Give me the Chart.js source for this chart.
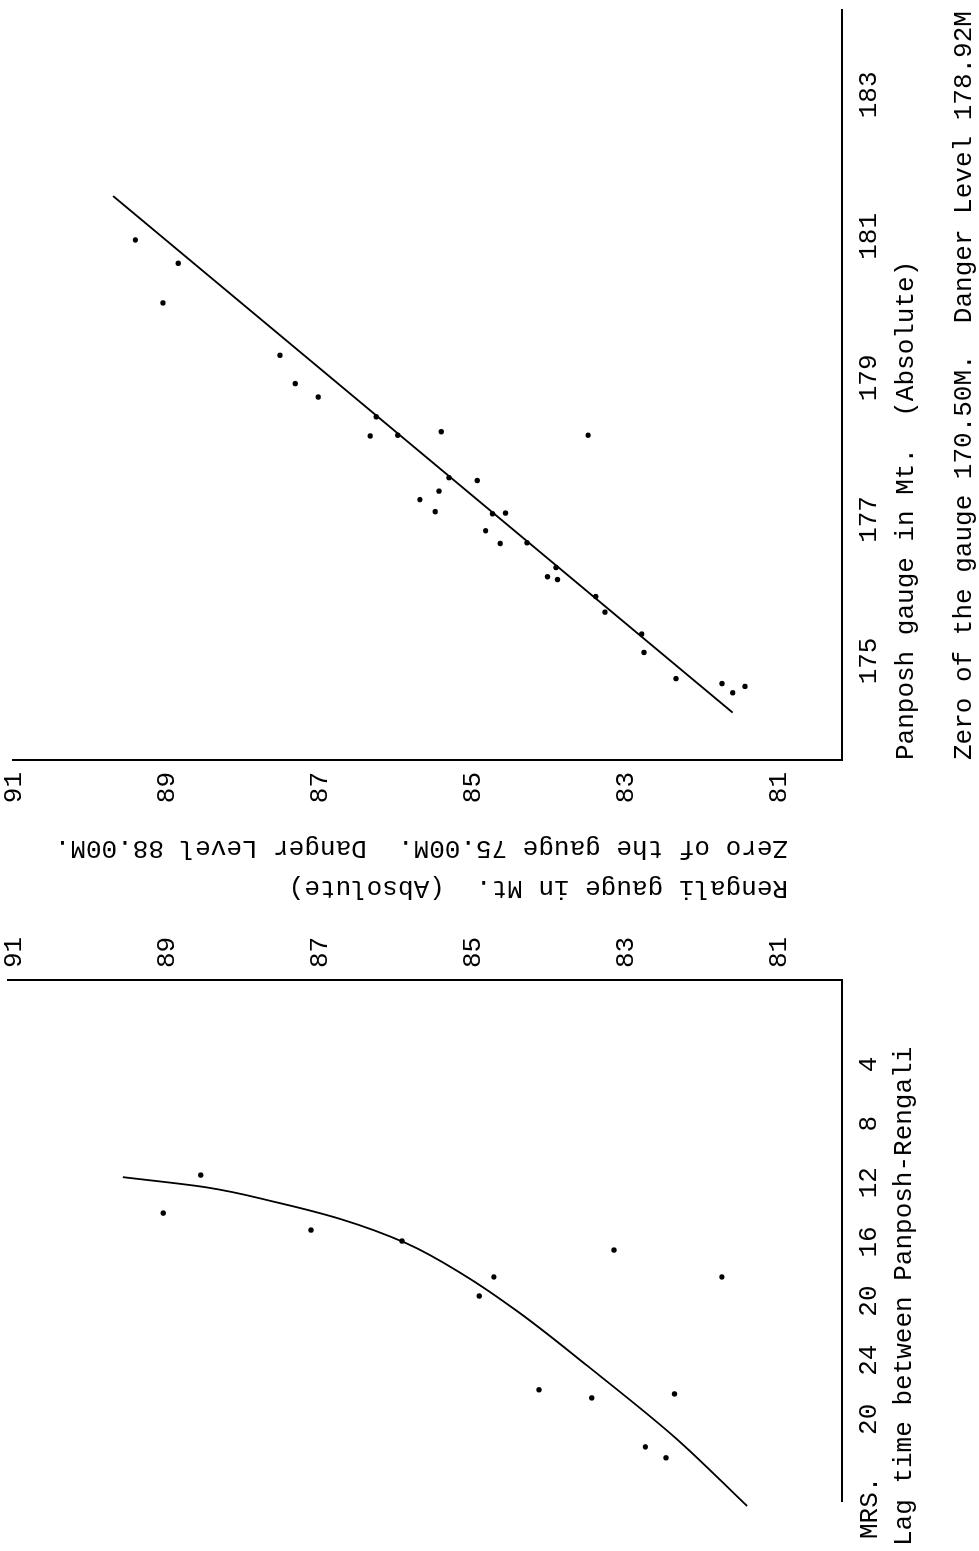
<!DOCTYPE html>
<html>
<head>
<meta charset="utf-8">
<script src="https://cdn.jsdelivr.net/npm/chart.js@4.4.0/dist/chart.umd.min.js"></script>
<style>
html, body { margin: 0; padding: 0; background: #fff; overflow: hidden; width: 979px; height: 1551px; }
#page { position: absolute; left: 0; top: 0; width: 1551px; height: 979px; overflow: hidden;
        transform-origin: 0 0; transform: translateY(1551px) rotate(-90deg); background: #fff; }
#lagChart { position: absolute; left: 0; top: 0; }
#gaugeChart { position: absolute; left: 640px; top: 0; }
</style>
</head>
<body>
<div id="page">
  <canvas id="lagChart" width="640" height="979"></canvas>
  <canvas id="gaugeChart" width="911" height="993"></canvas>
</div>
<script>
// ---------- data ----------
const rengaliTicks = [81, 83, 85, 87, 89, 91];
const panposhTicks = [175, 177, 179, 181, 183];
const lagTicks = [4, 8, 12, 16, 20, 24, 28];
const lagTickLabels = ['4', '8', '12', '16', '20', '24', '20'];
const lagUnitLabel = 'MRS.';

const panposhTitle = ['Panposh gauge in Mt.  (Absolute)', 'Zero of the gauge 170.50M.  Danger Level 178.92M'];
const rengaliTitle = ['Rengali gauge in Mt.  (Absolute)', 'Zero of the gauge 75.00M.  Danger Level 88.00M.'];
const lagTitle = 'Lag time between Panposh-Rengali';

// Panposh (x) vs Rengali (y) observations
const panposhObs = [180.95, 180.62, 180.06, 179.32, 178.92, 178.73, 178.45, 178.18, 178.19,
  178.19, 178.24, 177.59, 177.55, 177.28, 177.40, 177.11, 177.08, 177.09, 176.84, 176.66, 176.67,
  176.32, 176.19, 176.15, 175.91, 175.69, 175.38, 175.12, 174.75, 174.68, 174.55, 174.64];
const rengaliObsA = [89.42, 88.86, 89.06, 87.53, 87.33, 87.03, 86.27, 86.35, 85.99,
  83.50, 85.42, 85.32, 84.95, 85.70, 85.45, 85.50, 84.75, 84.58, 84.84, 84.65, 84.30,
  83.92, 84.03, 83.90, 83.40, 83.28, 82.80, 82.77, 82.35, 81.75, 81.61, 81.45];
// fitted straight line (end points)
const fitPanposh = [174.27, 181.57];
const fitRengali = [81.61, 89.71];

// Lag time (hrs) vs Rengali observations
const lagObs = [11.48, 14.05, 15.20, 15.94, 16.55, 18.37, 18.37, 19.66, 26.00, 26.55, 26.28, 29.86, 30.60];
const rengaliObsB = [88.56, 89.05, 87.12, 85.93, 83.16, 84.73, 81.75, 84.92, 84.14, 83.45, 82.37, 82.75, 82.48];
// fitted curve
const curveLag = [11.62, 12.30, 13.30, 14.46, 16.08, 18.31, 20.74, 24.33, 29.19, 33.86];
const curveRengali = [89.58, 88.50, 87.59, 86.73, 85.88, 85.10, 84.41, 83.52, 82.37, 81.42];

// ---------- styling ----------
const FONT = "'Liberation Mono', 'Courier New', monospace";
const INK = '#000';
const pts = (xs, ys) => xs.map((x, i) => ({ x: x, y: ys[i] }));

const pageTextPlugin = {
  id: 'pageText',
  afterDraw(chart, args, opts) {
    const ctx = chart.ctx;
    (opts.items || []).forEach(it => {
      ctx.save();
      ctx.font = (it.size || 26) + 'px ' + FONT;
      ctx.fillStyle = INK;
      ctx.textAlign = 'left';
      ctx.textBaseline = 'middle';
      ctx.translate(it.x, it.y);
      if (it.rotate) ctx.rotate(it.rotate);
      ctx.fillText(it.text, 0, 0);
      ctx.restore();
    });
  }
};

const noPad = (s) => { s.paddingLeft = 0; s.paddingRight = 0; s.paddingTop = 0; s.paddingBottom = 0; };
const tickFont = { family: FONT, size: 26 };
const border = { display: true, color: INK, width: 2 };
const grid = { display: false, drawTicks: false };

// ---------- left chart: lag time ----------
new Chart(document.getElementById('lagChart'), {
  type: 'scatter',
  data: {
    datasets: [
      { data: pts(lagObs, rengaliObsB), pointRadius: 2.7, pointBackgroundColor: INK, pointBorderWidth: 0, showLine: false },
      { data: pts(curveLag, curveRengali), showLine: true, borderColor: INK, borderWidth: 1.8,
        pointRadius: 0, tension: 0.4, cubicInterpolationMode: 'monotone', clip: false }
    ]
  },
  options: {
    responsive: false, animation: false, events: [],
    layout: { padding: { left: 50, top: 8, right: 0, bottom: 0 } },
    plugins: {
      legend: { display: false }, tooltip: { enabled: false },
      pageText: { items: [
        { text: lagUnitLabel, x: 12, y: 870 },
        { text: lagTitle, x: 5, y: 904 }
      ] }
    },
    scales: {
      x: {
        type: 'linear', position: 'bottom', reverse: true, min: -1.71, max: 33.52, bounds: 'data',
        grid: grid, border: border,
        ticks: { font: tickFont, color: INK, padding: 12, autoSkip: false, maxRotation: 0,
                 callback: (v) => lagTickLabels[lagTicks.indexOf(v)] },
        afterBuildTicks: (s) => { s.ticks = lagTicks.map(v => ({ value: v })); },
        afterFit: (s) => { s.height = 137; noPad(s); }
      },
      y: {
        type: 'linear', position: 'right', min: 80.18, max: 91.08, bounds: 'data',
        grid: grid, border: border,
        ticks: { font: tickFont, color: INK, padding: 12, autoSkip: false },
        afterBuildTicks: (s) => { s.ticks = rengaliTicks.map(v => ({ value: v })); },
        afterFit: (s) => { s.width = 69; noPad(s); }
      }
    }
  },
  plugins: [pageTextPlugin]
});

// ---------- right chart: Panposh vs Rengali ----------
new Chart(document.getElementById('gaugeChart'), {
  type: 'scatter',
  data: {
    datasets: [
      { data: pts(panposhObs, rengaliObsA), pointRadius: 2.7, pointBackgroundColor: INK, pointBorderWidth: 0, showLine: false },
      { data: pts(fitPanposh, fitRengali), showLine: true, borderColor: INK, borderWidth: 1.8, pointRadius: 0 }
    ]
  },
  options: {
    responsive: false, animation: false, events: [],
    layout: { padding: { left: 6, top: 13, right: 10, bottom: 0 } },
    plugins: {
      legend: { display: false }, tooltip: { enabled: false },
      pageText: { items: [
        { text: rengaliTitle[0], x: 23, y: 788, rotate: -Math.PI / 2 },
        { text: rengaliTitle[1], x: 63, y: 788, rotate: -Math.PI / 2 }
      ] }
    },
    scales: {
      x: {
        type: 'linear', position: 'bottom', min: 173.60, max: 184.20, bounds: 'data',
        grid: grid, border: border,
        ticks: { font: tickFont, color: INK, padding: 12, autoSkip: false, maxRotation: 0 },
        title: { display: true, text: panposhTitle, align: 'start', color: INK,
                 font: { family: FONT, size: 26, lineHeight: '58px' }, padding: { top: 0, bottom: 0 } },
        afterBuildTicks: (s) => { s.ticks = panposhTicks.map(v => ({ value: v })); },
        afterFit: (s) => { s.height = 151; noPad(s); }
      },
      y: {
        type: 'linear', position: 'left', min: 80.18, max: 91.02, bounds: 'data',
        grid: grid, border: border,
        ticks: { font: tickFont, color: INK, padding: 12, autoSkip: false },
        afterBuildTicks: (s) => { s.ticks = rengaliTicks.map(v => ({ value: v })); },
        afterFit: (s) => { s.width = 145; noPad(s); }
      }
    }
  },
  plugins: [pageTextPlugin]
});
</script>
</body>
</html>
